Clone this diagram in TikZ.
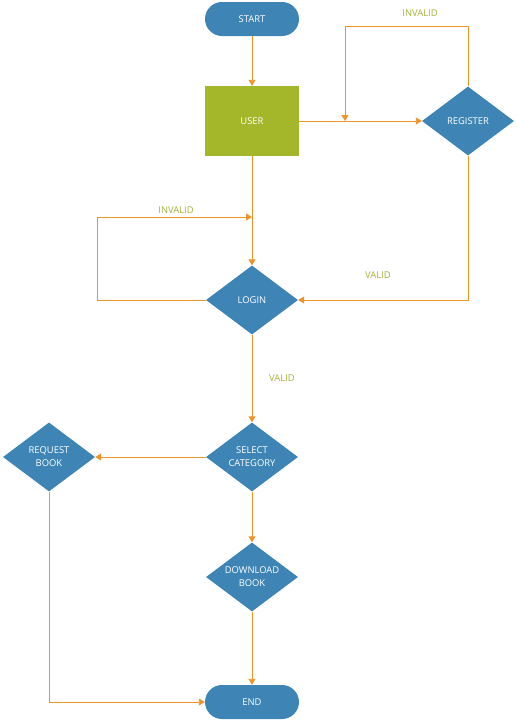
\documentclass[tikz,border=0pt]{standalone}
\usepackage{fontspec}
\setmainfont{Open Sans}
\usetikzlibrary{shapes.geometric,arrows.meta}
\definecolor{boxblue}{HTML}{3E85B5}
\definecolor{boxgreen}{HTML}{A4B72A}
\definecolor{flowline}{HTML}{EE9428}
\definecolor{labelgreen}{HTML}{A3B03A}
\tikzset{
  txt/.style={font=\fontsize{9.4}{13}\selectfont, text=white, align=center},
  terminal/.style={txt, rectangle, rounded corners=17pt, fill=boxblue,
    minimum width=94pt, minimum height=34pt, inner sep=0pt},
  process/.style={txt, rectangle, fill=boxgreen,
    minimum width=94pt, minimum height=70pt, inner sep=0pt},
  decision/.style={txt, diamond, fill=boxblue, aspect=1.333,
    minimum width=92pt, minimum height=69pt, inner sep=0pt},
  flow/.style={draw=flowline, line width=0.9pt,
    -{Triangle[length=6pt,width=7pt]}},
  lbl/.style={font=\fontsize{9.4}{11}\selectfont, text=labelgreen}
}
\begin{document}
\begin{tikzpicture}[x=1pt, y=-1pt]
\useasboundingbox (0,0) rectangle (517,721);

% shapes
\node[terminal] (start) at (252,19) {START};
\node[process]  (user)  at (252,121) {USER};
\node[decision] (reg)   at (468,121) {REGISTER};
\node[decision] (login) at (252,300) {LOGIN};
\node[decision] (sel)   at (252,457) {SELECT\\CATEGORY};
\node[decision] (req)   at (49,457)  {REQUEST\\BOOK};
\node[decision] (down)  at (252,577) {DOWNLOAD\\BOOK};
\node[terminal] (end)   at (252,702) {END};

% junction and corner points of the loops
\coordinate (regtop) at (345,26);
\coordinate (regjoin) at (345,121);
\coordinate (logleft) at (97,217);
\coordinate (logjoin) at (252,217);

% connectors
\draw[flow] (start) -- (user);
\draw[flow] (user.east) -- (reg.west);
\draw[flow] (reg.north) |- (regtop) -- (regjoin);
\draw[flow] (user) -- (login);
\draw[flow] (login.west) -| (logleft) -- (logjoin);
\draw[flow] (reg.south) |- (login.east);
\draw[flow] (login) -- (sel);
\draw[flow] (sel.west) -- (req.east);
\draw[flow] (sel) -- (down);
\draw[flow] (down) -- (end);
\draw[flow] (req.south) |- (end.west);

% labels
\node[lbl] (l1) at (420,13) {INVALID};
\node[lbl] (l2) at (176,210) {INVALID};
\node[lbl] (l3) at (378,275) {VALID};
\node[lbl] (l4) at (282,378) {VALID};
\end{tikzpicture}
\end{document}
